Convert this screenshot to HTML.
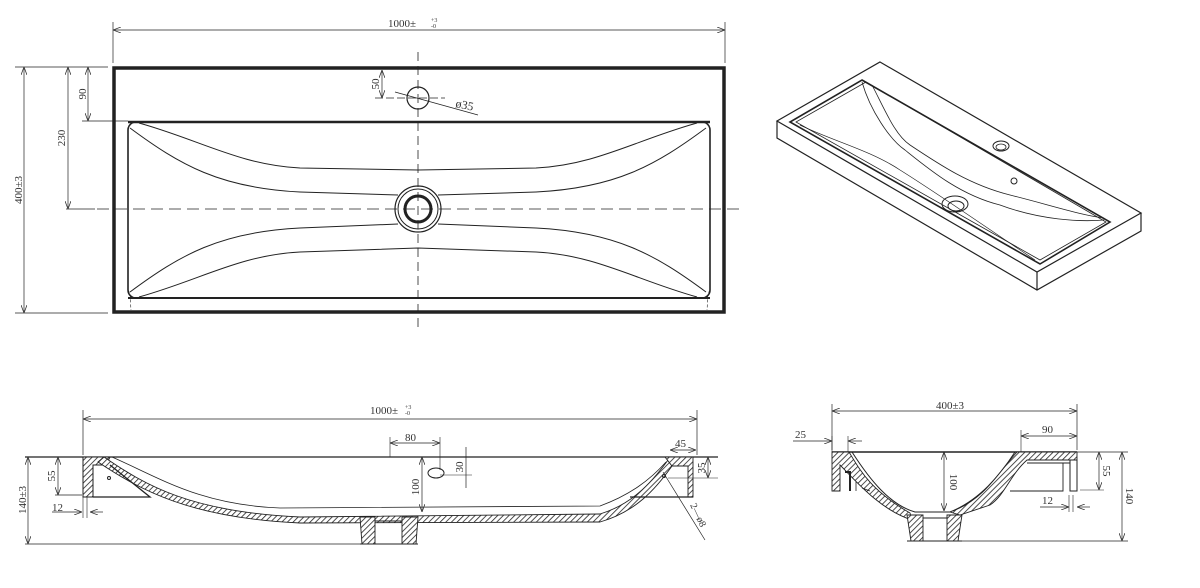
<!DOCTYPE html>
<html><head><meta charset="utf-8"><style>
html,body{margin:0;padding:0;background:#fff}
svg{display:block}
text{font-family:"Liberation Serif","Noto Sans CJK SC",serif;fill:#333}
</style></head><body>
<svg width="1200" height="588" viewBox="0 0 1200 588" xmlns="http://www.w3.org/2000/svg">
<defs>
<pattern id="h" width="4" height="4" patternUnits="userSpaceOnUse" patternTransform="rotate(45)">
<rect width="4" height="4" fill="#fff"/><line x1="0" y1="0" x2="0" y2="4" stroke="#222" stroke-width="1.6"/></pattern>
<marker id="a" markerWidth="8" markerHeight="6" refX="8" refY="3" orient="auto-start-reverse" markerUnits="userSpaceOnUse"><path d="M0,0 L8,3 L0,6" fill="none" stroke="#333" stroke-width="0.8"/></marker>
</defs>
<g fill="none" stroke="#222" stroke-width="1">
<!-- TOP VIEW -->
<line x1="113" y1="22" x2="113" y2="63" stroke-width="0.7"/>
<line x1="725" y1="22" x2="725" y2="63" stroke-width="0.7"/>
<line x1="113" y1="30" x2="725" y2="30" stroke-width="0.7" marker-start="url(#a)" marker-end="url(#a)"/>
<rect x="114" y="68" width="610" height="244" stroke-width="3.5"/>
<rect x="128" y="122" width="582" height="176" rx="8" stroke-width="1.6"/>
<line x1="128" y1="122" x2="710" y2="122" stroke-width="2.5"/>
<line x1="128" y1="298" x2="710" y2="298" stroke-width="2"/>
<path d="M139,123 C200,140 240,165 300,168 L418,170 L536,168 C596,165 636,140 697,123"/>
<path d="M130,128 C180,165 220,188 300,192 L398,195"/>
<path d="M706,128 C656,165 616,188 536,192 L438,195"/>
<path d="M139,297 C200,280 240,255 300,252 L418,248 L536,252 C596,255 636,280 697,297"/>
<path d="M130,292 C180,255 220,232 300,228 L398,224"/>
<path d="M706,292 C656,255 616,232 536,228 L438,224"/>
<path d="M128,290 C132,296 130,300 131,310" stroke-width="0.6" stroke-dasharray="3,2"/>
<path d="M710,290 C706,296 708,300 707,310" stroke-width="0.6" stroke-dasharray="3,2"/>
<line x1="418" y1="52" x2="418" y2="328" stroke-width="0.8" stroke-dasharray="9,5"/>
<line x1="97" y1="209" x2="742" y2="209" stroke-width="0.8" stroke-dasharray="12,6"/>
<circle cx="418" cy="98" r="11" stroke-width="1.2"/>
<circle cx="418" cy="209" r="23" stroke-width="1.2"/>
<circle cx="418" cy="209" r="20" stroke-width="1"/>
<circle cx="418" cy="209" r="13" stroke-width="3"/>
<line x1="15" y1="67" x2="108" y2="67" stroke-width="0.7"/>
<line x1="15" y1="313" x2="108" y2="313" stroke-width="0.7"/>
<line x1="24" y1="67" x2="24" y2="313" stroke-width="0.7" marker-start="url(#a)" marker-end="url(#a)"/>
<line x1="68" y1="67" x2="68" y2="209" stroke-width="0.7" marker-start="url(#a)" marker-end="url(#a)"/>
<line x1="88" y1="67" x2="88" y2="121" stroke-width="0.7" marker-start="url(#a)" marker-end="url(#a)"/>
<line x1="82" y1="121" x2="128" y2="121" stroke-width="0.7"/>
<line x1="66" y1="209" x2="95" y2="209" stroke-width="0.7"/>
<line x1="382" y1="70" x2="382" y2="98" stroke-width="0.7" marker-start="url(#a)" marker-end="url(#a)"/>
<line x1="375" y1="98" x2="445" y2="98" stroke-width="0.7" stroke-dasharray="8,3"/>
<line x1="395" y1="92" x2="478" y2="115" stroke-width="0.8"/>

<!-- ISOMETRIC -->
<path d="M880,62 L1141,213 L1037,272 L777,121 Z" stroke-width="1.2"/>
<path d="M777,121 L777,138 L1037,290 L1141,231 L1141,213 M1037,272 L1037,290" stroke-width="1.2"/>
<path d="M862,80 L1110,222 L1040,264 L790,122 Z" stroke-width="1.6"/>
<path d="M866,82 L1106,222 L1040,260 L796,122 Z" stroke-width="0.8"/>
<path d="M862,82 C870,110 890,140 905,150 C930,170 960,195 1000,205 C1040,220 1080,222 1104,220" stroke-width="0.8"/>
<path d="M872,85 C885,110 895,135 910,145 C940,165 970,185 1010,195 C1050,205 1080,215 1104,218" stroke-width="0.8"/>
<path d="M800,125 C830,140 870,150 900,170 C940,195 990,230 1035,260" stroke-width="0.7"/>
<ellipse cx="1001" cy="146" rx="8" ry="5" stroke-width="1"/>
<ellipse cx="1001" cy="147" rx="5" ry="3" stroke-width="0.8"/>
<circle cx="1014" cy="181" r="3" stroke-width="1"/>
<ellipse cx="955" cy="204" rx="13" ry="8" stroke-width="1"/>
<ellipse cx="956" cy="206" rx="8" ry="5" stroke-width="1"/>

<!-- FRONT SECTION -->
<line x1="83" y1="410" x2="83" y2="455" stroke-width="0.7"/>
<line x1="697" y1="410" x2="697" y2="455" stroke-width="0.7"/>
<line x1="83" y1="419" x2="697" y2="419" stroke-width="0.7" marker-start="url(#a)" marker-end="url(#a)"/>
<line x1="25" y1="457" x2="718" y2="457" stroke-width="1.3"/>
<line x1="25" y1="544" x2="360" y2="544" stroke-width="0.7"/>
<line x1="28" y1="457" x2="28" y2="544" stroke-width="0.7" marker-start="url(#a)" marker-end="url(#a)"/>
<line x1="58" y1="457" x2="58" y2="495" stroke-width="0.7" marker-start="url(#a)" marker-end="url(#a)"/>
<line x1="55" y1="495" x2="82" y2="495" stroke-width="0.7"/>
<line x1="52" y1="512" x2="82" y2="512" stroke-width="0.7" marker-end="url(#a)"/>
<line x1="103" y1="512" x2="90" y2="512" stroke-width="0.7" marker-end="url(#a)"/>
<line x1="83" y1="497" x2="83" y2="518" stroke-width="0.6"/><line x1="87" y1="497" x2="87" y2="518" stroke-width="0.6"/>
<path d="M83,457 L110,457 L106,465 L93,465 L93,497 L83,497 Z" fill="url(#h)"/>
<path d="M104,457 C145,485 190,512 300,517 L600,514 C630,505 650,485 668,460 L672,466 C655,490 635,512 600,522 L300,523 C190,518 140,490 98,462 Z" fill="url(#h)" stroke-width="0.9"/>
<path d="M112,457 C160,478 200,505 280,508 L600,506 C630,495 650,480 666,462" stroke-width="0.8"/>
<path d="M93,497 L150,497 L110,465" stroke-width="1.3"/>
<path d="M665,457 L693,457 L693,497 L688,497 L688,466 L672,466 Z" fill="url(#h)" stroke-width="0.9"/>
<path d="M630,497 L693,497" stroke-width="1.3"/>
<path d="M360,517 L375,517 L375,544 L362,544 Z" fill="url(#h)" stroke-width="0.9"/>
<path d="M402,517 L418,517 L416,544 L402,544 Z" fill="url(#h)" stroke-width="0.9"/>
<line x1="375" y1="521" x2="402" y2="521"/><line x1="360" y1="544" x2="418" y2="544"/>
<circle cx="109" cy="478" r="1.5"/><circle cx="664" cy="476" r="1.5"/>
<line x1="422" y1="457" x2="422" y2="512" stroke-width="0.7" marker-start="url(#a)" marker-end="url(#a)"/>
<line x1="390" y1="443" x2="440" y2="443" stroke-width="0.7" marker-start="url(#a)" marker-end="url(#a)"/>
<line x1="390" y1="437" x2="390" y2="457" stroke-width="0.6"/><line x1="440" y1="437" x2="440" y2="470" stroke-width="0.6"/>
<line x1="466" y1="447" x2="466" y2="488" stroke-width="0.7"/>
<line x1="440" y1="475" x2="472" y2="475" stroke-width="0.6"/>
<ellipse cx="436" cy="473" rx="8" ry="5" stroke-width="1"/>
<line x1="670" y1="450" x2="696" y2="450" stroke-width="0.7" marker-start="url(#a)" marker-end="url(#a)"/>
<line x1="708" y1="457" x2="708" y2="478" stroke-width="0.7" marker-start="url(#a)" marker-end="url(#a)"/>
<line x1="668" y1="478" x2="718" y2="478" stroke-width="0.6"/>
<line x1="663" y1="472" x2="705" y2="540" stroke-width="0.7"/>

<!-- SIDE SECTION -->
<line x1="832" y1="404" x2="832" y2="450" stroke-width="0.7"/>
<line x1="1077" y1="404" x2="1077" y2="450" stroke-width="0.7"/>
<line x1="832" y1="411" x2="1077" y2="411" stroke-width="0.7" marker-start="url(#a)" marker-end="url(#a)"/>
<line x1="793" y1="441" x2="832" y2="441" stroke-width="0.7" marker-end="url(#a)"/>
<line x1="862" y1="441" x2="848" y2="441" stroke-width="0.7" marker-end="url(#a)"/>
<line x1="832" y1="436" x2="832" y2="452" stroke-width="0.6"/><line x1="848" y1="436" x2="848" y2="452" stroke-width="0.6"/>
<line x1="1021" y1="436" x2="1077" y2="436" stroke-width="0.7" marker-start="url(#a)" marker-end="url(#a)"/>
<line x1="1021" y1="430" x2="1021" y2="452" stroke-width="0.6"/>
<line x1="1077" y1="452" x2="1128" y2="452" stroke-width="0.7"/>
<line x1="960" y1="541" x2="1128" y2="541" stroke-width="0.7"/>
<line x1="1122" y1="452" x2="1122" y2="541" stroke-width="0.7" marker-start="url(#a)" marker-end="url(#a)"/>
<line x1="1099" y1="452" x2="1099" y2="490" stroke-width="0.7" marker-start="url(#a)" marker-end="url(#a)"/>
<line x1="1080" y1="490" x2="1104" y2="490" stroke-width="0.6"/>
<line x1="1040" y1="507" x2="1069" y2="507" stroke-width="0.7" marker-end="url(#a)"/>
<line x1="1090" y1="507" x2="1077" y2="507" stroke-width="0.7" marker-end="url(#a)"/>
<line x1="1069" y1="495" x2="1069" y2="512" stroke-width="0.6"/><line x1="1073" y1="495" x2="1073" y2="512" stroke-width="0.6"/>
<line x1="944" y1="452" x2="944" y2="511" stroke-width="0.7" marker-start="url(#a)" marker-end="url(#a)"/>
<line x1="832" y1="452" x2="1077" y2="452" stroke-width="1.5"/>
<path d="M832,452 L849,452 C860,470 870,490 910,513 L912,520 C880,510 855,480 840,465 L840,491 L832,491 Z" fill="url(#h)" stroke-width="0.9"/>
<path d="M852,452 C870,480 890,505 915,512 L950,512 C980,500 1000,475 1015,452" stroke-width="1"/>
<path d="M1017,452 L1077,452 L1077,460 L1027,460 C1010,475 1005,495 990,505 L960,515 L950,512 C985,500 1000,470 1017,452 Z" fill="url(#h)" stroke-width="0.9"/>
<path d="M1070,460 L1077,460 L1077,491 L1070,491 Z" stroke-width="1"/>
<path d="M1027,463 L1070,463 M1063,463 L1063,491 L1010,491" stroke-width="0.9"/>
<path d="M845,472 L850,472 L850,491" stroke-width="2"/>
<path d="M856,482 L856,491 M862,488 L870,491" stroke-width="0.8"/>
<path d="M907,515 L923,515 L923,541 L911,541 Z" fill="url(#h)" stroke-width="0.9"/>
<path d="M947,515 L962,515 L958,541 L947,541 Z" fill="url(#h)" stroke-width="0.9"/>
<line x1="923" y1="518" x2="947" y2="518"/><line x1="907" y1="541" x2="962" y2="541"/>
</g>
<g font-size="11">
<text x="388" y="27">1000±</text><text x="431" y="22" font-size="6">+3</text><text x="431" y="28" font-size="6">-0</text>
<text x="22" y="190" transform="rotate(-90 22 190)" text-anchor="middle" font-family="Liberation Sans">400±3</text>
<text x="65" y="138" transform="rotate(-90 65 138)" text-anchor="middle" font-family="Liberation Sans">230</text>
<text x="86" y="94" transform="rotate(-90 86 94)" text-anchor="middle" font-family="Liberation Sans">90</text>
<text x="379" y="84" transform="rotate(-90 379 84)" text-anchor="middle" font-family="Liberation Sans">50</text>
<text x="455" y="107" transform="rotate(12 455 107)" font-family="Liberation Sans" font-size="12">ø35</text>
<text x="370" y="414">1000±</text><text x="405" y="409" font-size="6">+3</text><text x="405" y="415" font-size="6">-0</text>
<text x="26" y="500" transform="rotate(-90 26 500)" text-anchor="middle">140±3</text>
<text x="55" y="476" transform="rotate(-90 55 476)" text-anchor="middle">55</text>
<text x="52" y="511">12</text>
<text x="405" y="441">80</text>
<text x="463" y="467" transform="rotate(-90 463 467)" text-anchor="middle">30</text>
<text x="419" y="487" transform="rotate(-90 419 487)" text-anchor="middle">100</text>
<text x="675" y="447">45</text>
<text x="705" y="468" transform="rotate(-90 705 468)" text-anchor="middle">35</text>
<text x="690" y="505" transform="rotate(65 690 505)" font-size="10">2—ø8</text>
<text x="936" y="409" font-family="Liberation Sans">400±3</text>
<text x="795" y="438" font-family="Liberation Sans">25</text>
<text x="1042" y="433" font-family="Liberation Sans">90</text>
<text x="950" y="482" transform="rotate(90 950 482)" text-anchor="middle" font-family="Liberation Sans">100</text>
<text x="1103" y="471" transform="rotate(90 1103 471)" text-anchor="middle" font-family="Liberation Sans">55</text>
<text x="1126" y="496" transform="rotate(90 1126 496)" text-anchor="middle" font-family="Liberation Sans">140</text>
<text x="1042" y="504" font-family="Liberation Sans">12</text>
</g>
</svg>
</body></html>
